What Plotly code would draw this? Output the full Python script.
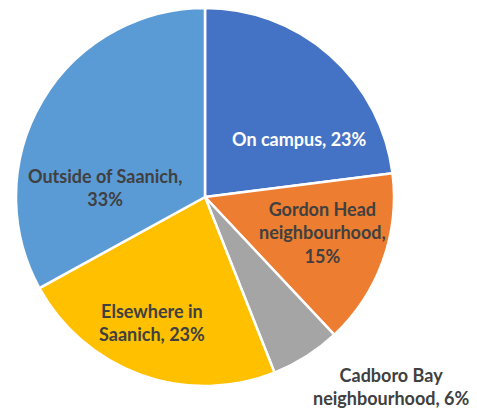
import plotly.graph_objects as go

labels = ["On campus", "Gordon Head<br>neighbourhood", "Cadboro Bay<br>neighbourhood",
          "Elsewhere in<br>Saanich", "Outside of Saanich"]
values = [23, 15, 6, 23, 33]
separators = [", ", ",<br>", ", ", ", ", ",<br>"]

# styling
colors = ["#4472C4", "#ED7D31", "#A5A5A5", "#FFC000", "#5B9BD5"]
text_colors = ["#FFFFFF", "#404040", "#404040", "#404040", "#404040"]
# label centres in page pixels (Excel "best fit" placement)
label_px = [(299, 139), (322, 232), (391, 386), (152, 322), (105, 188)]

W, H = 477, 410
OFF = 8  # default page margin around the plot div

texts = [f"{l}{s}{v}%" for l, s, v in zip(labels, separators, values)]

fig = go.Figure(go.Pie(
    labels=labels,
    values=values,
    textinfo="none",
    sort=False,
    direction="clockwise",
    rotation=0,
    marker=dict(colors=colors, line=dict(color="white", width=2.5)),
    domain=dict(x=[(205 - OFF - 189) / W, (205 - OFF + 189) / W],
                y=[1 - (197 - OFF + 189) / H, 1]),
    showlegend=False,
    hoverinfo="label+percent",
))

for t, c, (sx, sy) in zip(texts, text_colors, label_px):
    fig.add_annotation(
        x=(sx - OFF) / W, y=1 - (sy - OFF) / H,
        xref="paper", yref="paper",
        text=t, showarrow=False,
        xanchor="center", yanchor="middle", align="center",
        font=dict(family="Lato", size=18, color=c, weight="bold"),
    )

fig.update_layout(
    width=W, height=H,
    margin=dict(l=0, r=0, t=0, b=0),
    paper_bgcolor="white",
    plot_bgcolor="white",
)
fig.write_html("out.html")
